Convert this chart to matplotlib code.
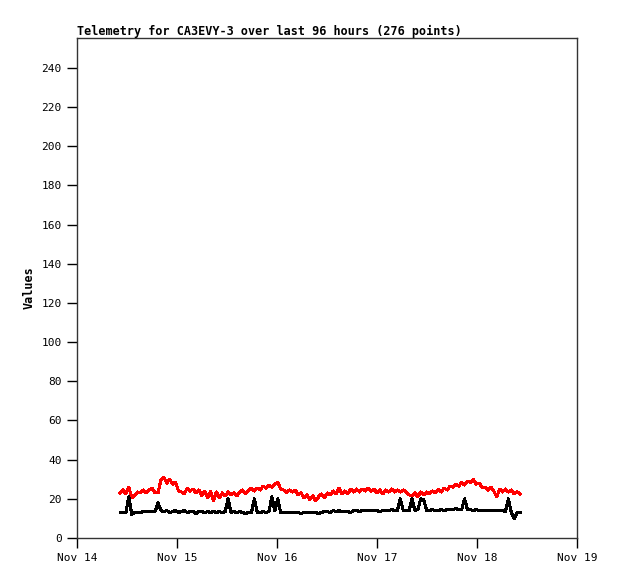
import datetime as dt
import numpy as np
import matplotlib
matplotlib.use('Agg')
import matplotlib.pyplot as plt
import matplotlib.dates as mdates

# Telemetry values (138 samples per channel, 96 hours)
red_vals = [23, 24.5, 22.5, 26, 20.5,
            22, 23.5, 23, 24.5, 23, 24.5,
            25.5, 23, 23, 29.5,
            31, 28, 30, 27.5, 28.5, 24,
            23.5, 22.5, 25.5, 24, 25,
            23, 24.5, 21.5, 24, 20.5,
            24, 19, 23.5, 20.5, 23,
            21.5, 23.5, 22, 23, 21.5,
            23.5, 24.5, 22.5, 24.5, 25.5,
            24, 25.5, 24.5, 26.5, 25.5,
            27, 26, 27.5, 28.5, 25,
            24.5, 23, 24.5, 23.5, 24.5,
            22, 23, 20.5, 22, 19.5,
            21.5, 19, 21, 22.5, 20.5,
            23, 22, 24, 22.5, 25.5,
            22.5, 24, 22.5, 25, 23.5,
            25, 23.5, 25, 24, 25.5,
            24, 25, 23, 24.5, 22.5,
            24.5, 23.5, 25, 23.5, 24.5,
            23.5, 24.5, 23.5, 22, 21.5,
            23, 21, 23.5, 22, 23.5,
            22.5, 24, 23, 25, 23.5,
            25.5, 24.5, 26.5, 26, 27.5,
            26.5, 28.5, 27, 29, 28.5,
            30, 27.5, 28, 26, 26,
            24.5, 26, 24, 21, 25,
            23.5, 25, 23.5, 24.5, 22.5,
            23.5, 22.5]

black_vals = [13, 13, 13, 21, 12,
              13, 13, 13, 13.5, 13.5, 13.5,
              13.5, 13.5, 18, 14,
              13.5, 14, 13, 13.5, 14, 13,
              13.5, 14, 13, 13.5, 13.5,
              12.5, 13.5, 13.5, 13, 13.5,
              13, 13.5, 13, 13.5, 13,
              13.5, 20, 13, 13.5, 13,
              13.5, 13, 12.5, 13, 13,
              20, 13, 13, 13.5, 13,
              13.5, 21, 14, 20, 13,
              13, 13, 13, 13, 13,
              13, 12.5, 13, 13, 13,
              13, 13, 12.5, 13, 13.5,
              13.5, 13, 14, 13.5, 14,
              13.5, 13.5, 13.5, 13, 14,
              14, 13.5, 14, 14, 14,
              14, 14, 14, 13.5, 14,
              14, 14, 14.5, 14, 14,
              20, 14, 14, 14, 20,
              14, 14.5, 20, 19.5, 14,
              14, 14.5, 14, 14, 14.5,
              14, 14.5, 14.5, 14.5, 15,
              14.5, 14.5, 20, 14.5, 14.5,
              14, 14.5, 14, 14, 14,
              14, 14, 14, 14, 14,
              14, 13.5, 20, 13, 10,
              13, 13]

start = dt.datetime(2023, 11, 14, 10, 20)
end = start + dt.timedelta(hours=96)
n = len(red_vals)
times = [start + (end - start) * k / (n - 1) for k in range(n)]

mono = 'DejaVu Sans Mono'

fig = plt.figure(figsize=(6.18, 5.79), dpi=100)
ax = fig.add_axes([77 / 618, 41 / 579, 500 / 618, 500 / 579])

ax.plot(times, red_vals, color='#ff0000', linewidth=1.5, antialiased=False)
ax.plot(times, black_vals, color='#000000', linewidth=1.5, antialiased=False)

ax.set_xlim(dt.datetime(2023, 11, 14), dt.datetime(2023, 11, 19))
ax.set_ylim(0, 255.3)
ax.set_yticks(np.arange(0, 241, 20))
ax.xaxis.set_major_locator(mdates.DayLocator())
ax.xaxis.set_major_formatter(mdates.DateFormatter('%b %d'))

ax.tick_params(direction='out', length=7, width=1, labelsize=8, pad=4)
for lab in ax.get_xticklabels() + ax.get_yticklabels():
    lab.set_fontfamily(mono)
for sp in ax.spines.values():
    sp.set_color('#333333')
    sp.set_linewidth(1)

ax.set_title('Telemetry for CA3EVY-3 over last 96 hours (276 points)',
             loc='left', fontsize=8.5, fontweight='bold', family=mono, pad=2)
ax.set_ylabel('Values', fontsize=8.5, fontweight='bold', family=mono, labelpad=4)

fig.savefig('out.png', dpi=100)
